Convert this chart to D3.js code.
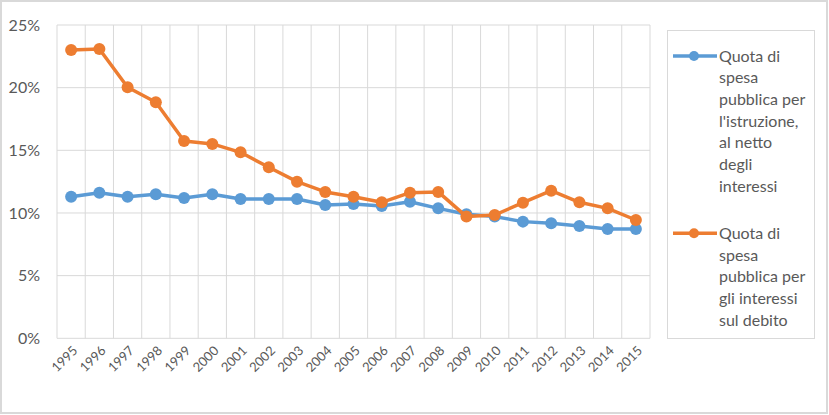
<!DOCTYPE html>
<html><head><meta charset="utf-8">
<script src="https://cdn.jsdelivr.net/npm/d3@7"></script>
<style>
html,body{margin:0;padding:0;background:#fff;}
svg{display:block;font-family:Lato,"Open Sans",sans-serif;}
</style></head>
<body>
<svg id="chart" width="829" height="415"></svg>
<script>
const years = ["1995","1996","1997","1998","1999","2000","2001","2002","2003","2004","2005","2006","2007","2008","2009","2010","2011","2012","2013","2014","2015"];
const istruzione = [11.30,11.62,11.30,11.49,11.20,11.49,11.12,11.12,11.12,10.64,10.72,10.56,10.90,10.37,9.90,9.71,9.31,9.18,8.96,8.72,8.72];
const interessi = [23.01,23.09,20.03,18.83,15.75,15.51,14.84,13.65,12.50,11.68,11.30,10.85,11.62,11.68,9.71,9.84,10.82,11.78,10.85,10.37,9.44];
const yTicks = [0,5,10,15,20,25];
const seriesNames = ["Quota di spesa pubblica per l'istruzione, al netto degli interessi","Quota di spesa pubblica per gli interessi sul debito"];
const legendLines = [["Quota di","spesa","pubblica per","l'istruzione,","al netto","degli","interessi"],["Quota di","spesa","pubblica per","gli interessi","sul debito"]];
const colors = ["#5B9BD5","#ED7D31"];

const svg = d3.select("#chart");
const W = 829, H = 415;
const plot = {left:57, right:650, top:25, bottom:338.3};

// outer frame
svg.append("rect").attr("x",1).attr("y",1).attr("width",W-3).attr("height",H-3)
  .attr("fill","#fff").attr("stroke","#d9d9d9").attr("stroke-width",2);

const x = d3.scaleBand().domain(years).range([plot.left, plot.right]).padding(0);
const y = d3.scaleLinear().domain([0,25]).range([plot.bottom, plot.top]);

const grid = svg.append("g");
grid.selectAll("line.h").data(yTicks).join("line")
  .attr("x1",plot.left).attr("x2",plot.right)
  .attr("y1",d=>y(d)).attr("y2",d=>y(d))
  .attr("stroke","#d9d9d9").attr("stroke-width",1);
const bounds = years.map(d=>x(d)).concat([x(years[years.length-1])+x.bandwidth()]);
grid.selectAll("line.v").data(bounds).join("line")
  .attr("x1",d=>d).attr("x2",d=>d)
  .attr("y1",plot.top).attr("y2",plot.bottom)
  .attr("stroke","#d9d9d9").attr("stroke-width",1);

svg.append("g").selectAll("text").data(yTicks).join("text")
  .attr("x",40).attr("y",d=>y(d)).attr("dy","0.35em")
  .attr("text-anchor","end").attr("fill","#595959").attr("font-size",16)
  .text(d=>d+"%");

svg.append("g").selectAll("text").data(years).join("text")
  .attr("transform",d=>`translate(${x(d)+x.bandwidth()/2+4},${plot.bottom+10}) rotate(-45)`)
  .attr("text-anchor","end").attr("dy","0.35em")
  .attr("fill","#595959").attr("font-size",13)
  .text(d=>d);

const cx = d=>x(d)+x.bandwidth()/2;
const series = [istruzione, interessi];
const line = d3.line().x((d,i)=>cx(years[i])).y(d=>y(d));
series.forEach((s,k)=>{
  const g = svg.append("g");
  g.append("path").datum(s).attr("d",line).attr("fill","none")
    .attr("stroke",colors[k]).attr("stroke-width",3.5).attr("stroke-linejoin","round");
  g.selectAll("circle").data(s).join("circle")
    .attr("cx",(d,i)=>cx(years[i])).attr("cy",d=>y(d)).attr("r",6)
    .attr("fill",colors[k]);
});

const lg = svg.append("g");
lg.append("rect").attr("x",667.5).attr("y",30.5).attr("width",147).attr("height",308)
  .attr("fill","#fff").attr("stroke","#d9d9d9").attr("stroke-width",1);
const legendY = [56, 233.3];
const lineH = 21.7;
seriesNames.forEach((name,k)=>{
  const ly = legendY[k];
  lg.append("line").attr("x1",673).attr("x2",717).attr("y1",ly).attr("y2",ly)
    .attr("stroke",colors[k]).attr("stroke-width",3.5);
  lg.append("circle").attr("cx",694).attr("cy",ly).attr("r",5).attr("fill",colors[k]);
  const t = lg.append("text").attr("fill","#595959").attr("font-size",16)
    .attr("aria-label",name);
  legendLines[k].forEach((ln,j)=>{
    t.append("tspan").attr("x",719).attr("y",ly+j*lineH).attr("dy","0.35em").text(ln);
  });
});
</script>
</body></html>
